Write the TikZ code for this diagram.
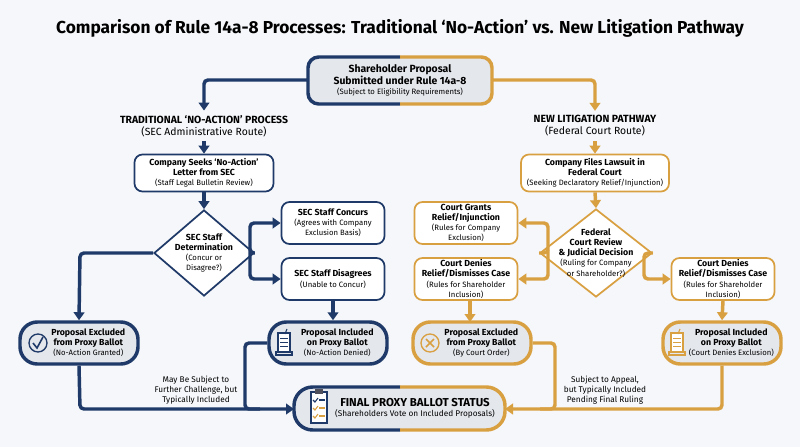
\documentclass[tikz,border=0pt]{standalone}
\usepackage{fontspec}
\setmainfont{Fira Sans}
\usetikzlibrary{shapes.geometric,arrows.meta,calc}
\definecolor{navy}{HTML}{1F3A68}
\definecolor{gold}{HTML}{D9A042}
\definecolor{bg}{HTML}{F5F7FA}
\definecolor{pill}{HTML}{E4E7EC}
\newcommand{\smt}{\fontsize{5.8}{6.8}\selectfont}
\begin{document}
\begin{tikzpicture}[x=0.75pt,y=-0.75pt,
  font=\fontsize{6.6}{7.6}\selectfont,
  box/.style={draw=#1,line width=1.3pt,rounded corners=6pt,fill=white,align=center,minimum width=103*0.75pt,minimum height=42*0.75pt,inner sep=1pt},
  pl/.style={draw=#1,line width=2.6pt,rounded corners=13pt,fill=pill,align=center,minimum width=118*0.75pt,minimum height=42*0.75pt,inner sep=1pt},
  dia/.style 2 args={diamond,draw=#1,line width=1.3pt,fill=white,align=center,inner sep=-8pt,minimum width=#2,minimum height=86*0.75pt},
  con/.style={draw=#1,line width=2.6pt,-{Triangle[length=6pt,width=8pt]},rounded corners=3pt},
  ln/.style={draw=#1,line width=2.6pt,rounded corners=3pt},
  hd/.style={align=center,font=\fontsize{7.8}{9}\selectfont}]
\fill[bg] (0,0) rectangle (800,447);
\useasboundingbox (0,0) rectangle (800,447);
\node[font=\bfseries\fontsize{13}{15}\selectfont] (title) at (400,28) {Comparison of Rule 14a-8 Processes: Traditional ‘No-Action’ vs. New Litigation Pathway};
% top box
\fill[pill,rounded corners=8pt] (308,57) rectangle (492,104);
\draw[navy,line width=2.6pt,rounded corners=8pt] (400,57) -- (308,57) -- (308,104) -- (400,104);
\draw[gold,line width=2.6pt,rounded corners=8pt] (400,57) -- (492,57) -- (492,104) -- (400,104);
\node[align=center] (top) at (400,80) {\fontsize{7.8}{9}\selectfont\bfseries Shareholder Proposal\\\fontsize{7.8}{9}\selectfont\bfseries Submitted under Rule 14a-8\\{\smt (Subject to Eligibility Requirements)}};
\coordinate (topL) at (308,80); \coordinate (topR) at (492,80);
% headings
\node[hd] (hl) at (204,126) {\bfseries TRADITIONAL ‘NO-ACTION’ PROCESS\\(SEC Administrative Route)};
\node[hd] (hr) at (595,126) {\bfseries NEW LITIGATION PATHWAY\\(Federal Court Route)};
\draw[con=navy] (topL) -- (204,80) -- (hl.north);
\draw[con=gold] (topR) -- (595,80) -- (hr.north);
% left
\node[box=navy,minimum width=139*0.75pt,minimum height=37*0.75pt] (seek) at (204,173) {\bfseries Company Seeks ‘No-Action’\\\bfseries Letter from SEC\\{\smt (Staff Legal Bulletin Review)}};
\draw[con=navy] (hl.south) -- (seek.north);
\node[dia={navy}{100*0.75pt}] (det) at (204,253) {\bfseries SEC Staff\\\bfseries Determination\\{\smt (Concur or}\\{\smt Disagree?)}};
\draw[con=navy] (seek.south) -- (det.north);
\node[box=navy] (conc) at (333,223) {\bfseries SEC Staff Concurs\\{\smt (Agrees with Company}\\{\smt Exclusion Basis)}};
\node[box=navy] (dis) at (333,279) {\bfseries SEC Staff Disagrees\\{\smt (Unable to Concur)}};
\draw[con=navy] (det.east) -- (250,253) -- (250,223) -- (conc.west);
\draw[con=navy] (250,250) -- (250,279) -- (dis.west);
\node[pl=navy] (exL) at (79,343) {\hspace*{14pt}\bfseries Proposal Excluded\\\hspace*{14pt}\bfseries from Proxy Ballot\\\hspace*{14pt}{\smt (No-Action Granted)}};
\node[pl=navy] (inL) at (328,343) {\hspace*{14pt}\bfseries Proposal Included\\\hspace*{14pt}\bfseries on Proxy Ballot\\\hspace*{14pt}{\smt (No-Action Denied)}};
\draw[con=navy] (det.west) -- (80,253) -- (exL.north);
\draw[con=navy] (dis.south) -- (inL.north-|dis.south);
% right
\node[box=gold,minimum width=148*0.75pt,minimum height=37*0.75pt] (file) at (595,173) {\bfseries Company Files Lawsuit in\\\bfseries Federal Court\\{\smt (Seeking Declaratory Relief/Injunction)}};
\draw[con=gold] (hr.south) -- (file.north);
\node[dia={gold}{112*0.75pt},minimum height=88*0.75pt,inner sep=-10pt] (fed) at (596,253) {\bfseries Federal\\\bfseries Court Review\\\bfseries \& Judicial Decision\\{\smt (Ruling for Company}\\{\smt or Shareholder?)}};
\draw[con=gold] (file.south) -- (fed.north);
\node[box=gold] (grant) at (466,223) {\bfseries Court Grants\\\bfseries Relief/Injunction\\{\smt (Rules for Company}\\{\smt Exclusion)}};
\node[box=gold] (denL) at (466,279) {\bfseries Court Denies\\\bfseries Relief/Dismisses Case\\{\smt (Rules for Shareholder}\\{\smt Inclusion)}};
\node[box=gold] (denR) at (723,279) {\bfseries Court Denies\\\bfseries Relief/Dismisses Case\\{\smt (Rules for Shareholder}\\{\smt Inclusion)}};
\draw[con=gold] (fed.west) -- (548,253) -- (548,223) -- (grant.east);
\draw[con=gold] (548,250) -- (548,279) -- (denL.east);
\draw[con=gold] (fed.east) -- (644,253) -- (644,279) -- (denR.west);
\node[pl=gold] (exR) at (472,343) {\hspace*{14pt}\bfseries Proposal Excluded\\\hspace*{14pt}\bfseries from Proxy Ballot\\\hspace*{14pt}{\smt (By Court Order)}};
\node[pl=gold] (inR) at (722,343) {\hspace*{14pt}\bfseries Proposal Included\\\hspace*{14pt}\bfseries on Proxy Ballot\\\hspace*{14pt}{\smt (Court Denies Exclusion)}};
\draw[con=gold] (denL.south-|470,0) -- (470,322);
\draw[con=gold] (denR.south) -- (inR.north);
% final
\fill[pill,rounded corners=14pt] (294,387) rectangle (505,430);
\draw[navy,line width=2.6pt,rounded corners=14pt] (400,387) -- (294,387) -- (294,430) -- (400,430);
\draw[gold,line width=2.6pt,rounded corners=14pt] (400,387) -- (505,387) -- (505,430) -- (400,430);
\node[align=center] (fin) at (415,408) {\fontsize{8.6}{10}\selectfont\bfseries FINAL PROXY BALLOT STATUS\\{\fontsize{6.2}{8}\selectfont (Shareholders Vote on Included Proposals)}};
\coordinate (finL) at (294,409); \coordinate (finR) at (505,409);
\draw[con=navy] (exL.south) -- (80,409) -- (finL);
\draw[ln=navy] (inL.west) -- (245,343) -- (245,409) -- (260,409);
\draw[con=gold] (inR.south) -- (722,409) -- (finR);
\draw[ln=gold] (exR.east) -- (555,343) -- (555,409) -- (540,409);
\node[align=center,font=\fontsize{6.2}{7.4}\selectfont] (lab1) at (196,390) {May Be Subject to\\Further Challenge, but\\Typically Included};
\node[align=center,font=\fontsize{6.2}{7.4}\selectfont] (lab2) at (605,390) {Subject to Appeal,\\but Typically Included\\Pending Final Ruling};
% icons
\draw[navy,line width=1pt] (38,343) circle (9);
\draw[navy,line width=1.2pt] (33,343) -- (37,348) -- (43,337);
\draw[gold,line width=1pt] (430,343) circle (9);
\draw[gold,line width=1.2pt] (426,339) -- (434,347) (434,339) -- (426,347);
\foreach \x/\c in {284/navy,677/gold}{
  \draw[\c,line width=0.8pt,fill=white] (\x-6,333) rectangle (\x+6,352);
  \foreach \yy in {338,342,346} \draw[\c,line width=0.6pt] (\x-4,\yy) -- (\x+4,\yy);
  \draw[\c,line width=0.8pt] (\x-8,352) rectangle (\x+8,355);
  \draw[\c,line width=0.8pt] (\x+1,334) -- (\x+3,329);
}
\draw[navy,line width=0.9pt,fill=white] (311,392) rectangle (327,423);
\fill[navy!70!brown] (315,389) rectangle (323,394);
\foreach \yy/\c in {400/navy,408/gold,416/gold}{
  \draw[\c,line width=0.8pt] (313,\yy) -- (315,\yy+2) -- (318,\yy-2);
  \draw[\c,line width=0.8pt] (319,\yy) -- (325,\yy);
}
\end{tikzpicture}
\end{document}
